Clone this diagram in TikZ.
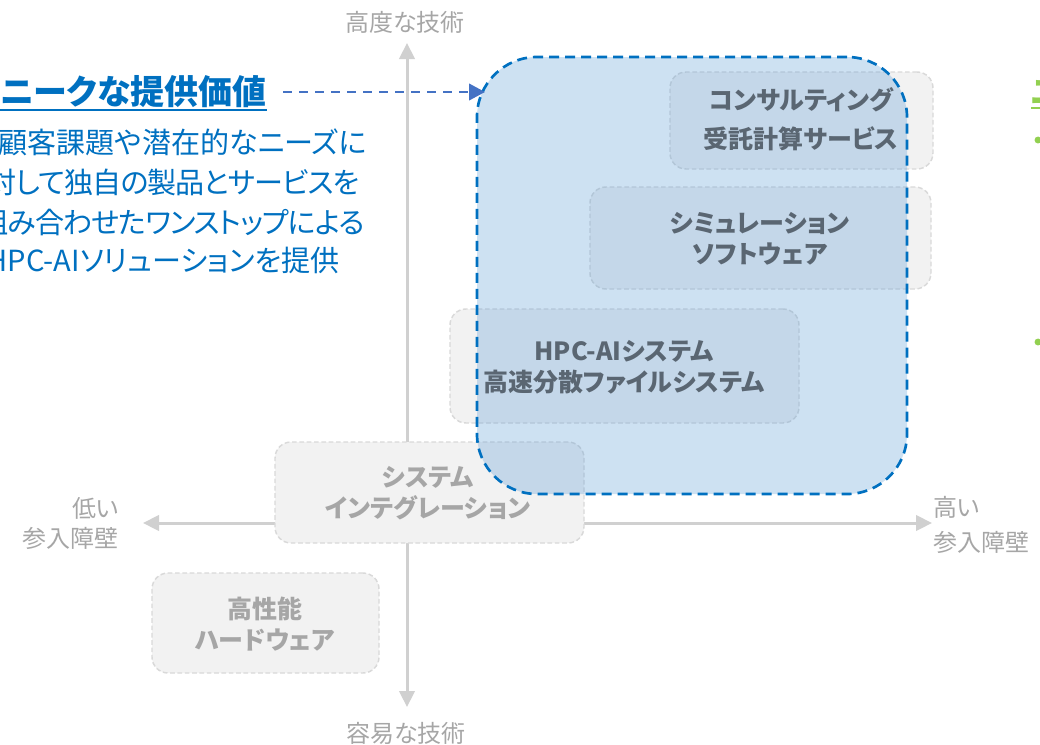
\documentclass[tikz,border=0pt]{standalone}
\usepackage{fontspec}
\usetikzlibrary{arrows.meta}
\newfontfamily\jp[RawFeature={+palt}]{Noto Sans CJK JP}
\definecolor{tblue}{HTML}{0070C0}
\definecolor{ablue}{HTML}{4472C4}
\definecolor{ovl}{HTML}{5B9BD5}
\definecolor{axisgray}{HTML}{D0D0D0}
\definecolor{lblgray}{HTML}{A6A6A6}
\definecolor{boxfill}{HTML}{F2F2F2}
\definecolor{boxline}{HTML}{D9D9D9}
\definecolor{darktxt}{HTML}{5A6672}
\definecolor{lighttxt}{HTML}{A6A6A6}
\definecolor{accgreen}{HTML}{92D050}
\begin{document}
\begin{tikzpicture}[x=0.75pt,y=-0.75pt,
  axisline/.style={draw=axisgray, line width=2.25pt, -{Triangle[length=12pt,width=11.5pt]}},
  gbox/.style={draw=boxline, fill=boxfill, line width=1.1pt, dash pattern=on 3.5pt off 2pt, rounded corners=12pt, inner sep=0pt},
  ovlbox/.style={draw=tblue, fill=ovl, fill opacity=0.3, line width=2pt, dash pattern=on 7.5pt off 4.5pt, rounded corners=45pt, inner sep=0pt},
  btxt/.style={font={\jp\bfseries\fontsize{18.75pt}{23.25pt}\selectfont}, align=center, inner sep=0pt},
  axlbl/.style={font={\jp\fontsize{18pt}{22.5pt}\selectfont}, text=lblgray, inner sep=0pt},
  bodytxt/.style={font={\jp\fontsize{21.8pt}{28pt}\selectfont}, text=tblue, anchor=east, inner sep=0pt},
  tighttxt/.style={font={\jp\fontsize{21.8pt}{28pt}\selectfont\addfontfeatures{LetterSpace=-3.5}}},
  ttl/.style={font={\jp\bfseries\fontsize{25.5pt}{30pt}\selectfont}, inner sep=0pt}
]
\useasboundingbox (0,0) rectangle (1040,744);
\clip (0,0) rectangle (1040,744);

% axes
\coordinate (o) at (407,523);
\coordinate (vtop) at (407,43);
\coordinate (vbot) at (407,707);
\coordinate (hleft) at (143,523);
\coordinate (hright) at (932,523);
\draw[axisline] (o) -- (vtop);
\draw[axisline] (o) -- (vbot);
\draw[axisline] (o) -- (hleft);
\draw[axisline] (o) -- (hright);

\node[axlbl] (lt) at (405,22) {高度な技術};
\node[axlbl] (lb) at (406,733) {容易な技術};
\node[axlbl, anchor=east, align=right] (ll) at (119,523) {低い\\参入障壁};
\node[axlbl, anchor=west, align=left, font={\jp\fontsize{18pt}{26pt}\selectfont}] (lr) at (933,525) {高い\\参入障壁};

% grey boxes
\node[gbox, minimum width=197.25pt, minimum height=72.75pt] (b1) at (801.5,120.5) {};
\node[gbox, minimum width=255.75pt, minimum height=76.5pt] (b2) at (760.5,238) {};
\node[gbox, minimum width=261.75pt, minimum height=85.5pt] (b3) at (624.5,366) {};
\node[gbox, minimum width=231.75pt, minimum height=75.75pt] (b4) at (429.5,492.5) {};
\node[gbox, minimum width=170.25pt, minimum height=75pt] (b5) at (265.5,623) {};

% blue overlay
\node[ovlbox, minimum width=322.5pt, minimum height=327.75pt] (blue) at (692,275.5) {};

% box labels
\node[btxt, text=darktxt, font={\jp\bfseries\fontsize{18.75pt}{29.25pt}\selectfont}] at (801,119.5) {コンサルティング\\受託計算サービス};
\node[btxt, text=darktxt] at (760,238.5) {シミュレーション\\ソフトウェア};
\node[btxt, text=darktxt] at (624,367.5) {HPC-AIシステム\\高速分散ファイルシステム};
\node[btxt, text=lighttxt] at (428,493.5) {システム\\インテグレーション};
\node[btxt, text=lighttxt] at (265,624) {高性能\\ハードウェア};

% title and text
\node[ttl, text=tblue, anchor=east] (title) at (267,92) {ユニークな提供価値};
\coordinate (ul) at (0,110);
\draw[tblue, line width=1.5pt] (title.west |- ul) -- (title.east |- ul);
\coordinate (tip) at (485,92);
\draw[ablue, line width=1.5pt, dash pattern=on 7pt off 5pt, -{Triangle[length=12pt,width=12.5pt]}] ([xshift=12pt]title.east) -- (tip);

\node[bodytxt] (l1) at (367,142) {顧客課題や潜在的なニーズに};
\node[bodytxt, tighttxt] (l2) at (360,182) {対して独自の製品とサービスを};
\node[bodytxt, tighttxt] (l3) at (365,222) {組み合わせたワンストップによる};
\node[bodytxt] (l4) at (340,260) {HPC-AIソリューションを提供};

% cut-off green content at right edge
\node[ttl, text=accgreen, anchor=base west] (gt) at (1031,104) {ユニーク};
\coordinate (gul) at (0,108);
\draw[accgreen, line width=1.5pt] (gt.west |- gul) -- (gt.east |- gul);
\fill[accgreen] (1038,140) circle[radius=2.6pt];
\fill[accgreen] (1038,342) circle[radius=2.6pt];
\end{tikzpicture}
\end{document}
